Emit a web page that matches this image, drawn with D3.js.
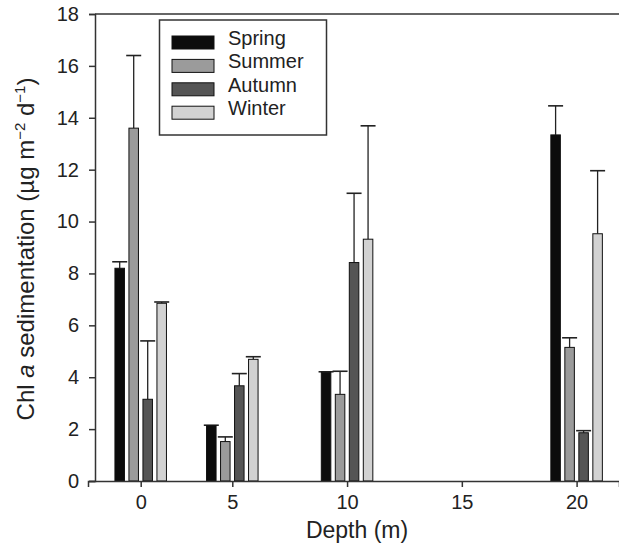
<!DOCTYPE html>
<html>
<head>
<meta charset="utf-8">
<script src="https://cdn.jsdelivr.net/npm/d3@7"></script>
<style>
    body { margin: 0; background: #fff; }
    svg { font-family: "Liberation Sans", Arial, sans-serif; }
</style>
</head>
<body>
<svg></svg>
<script>
let depths = [0, 5, 10, 20];
let depthTicks = [0, 5, 10, 15, 20];
let yTicks = [0, 2, 4, 6, 8, 10, 12, 14, 16, 18];
let seasons = ["Spring", "Summer", "Autumn", "Winter"];

// means and upper error (SE) per depth
let spring = [8.2, 2.13, 4.19, 13.34];
let springErr = [0.25, 0.02, 0.02, 1.12];
let summer = [13.6, 1.52, 3.34, 5.15];
let summerErr = [2.8, 0.18, 0.89, 0.37];
let autumn = [3.15, 3.67, 8.42, 1.86];
let autumnErr = [2.25, 0.47, 2.67, 0.08];
let winter = [6.85, 4.69, 9.32, 9.53];
let winterErr = [0.05, 0.1, 4.37, 2.43];

let colors = ["#0c0c0c", "#9b9b9b", "#555555", "#d2d2d2"];

let width = 619;
let height = 543;

let plotLeft = 95;
let plotTop = 14;
let plotBottom = 481;

let svg = d3.select("svg");

let xScale;
let yScale;
let seasonScale;

let values = [];

function buildValues() {
    let means = [spring, summer, autumn, winter];
    let errs = [springErr, summerErr, autumnErr, winterErr];
    seasons.forEach((s, i) => {
        depths.forEach((d, j) => {
            values.push({ season: s, depth: d, mean: means[i][j], err: errs[i][j], color: colors[i] });
        });
    });
}

function drawCanvas() {
    svg.attr("width", width)
       .attr("height", height);
}

function generateScales() {
    // the depth axis of the original is not evenly spaced between 0 and 5
    xScale = d3.scaleLinear()
               .domain([-2.4, 0, 5, 20, 22.8])
               .range([88, 140.7, 232.3, 576.6, 619]);

    yScale = d3.scaleLinear()
               .domain([0, 18])
               .range([plotBottom, plotTop]);

    seasonScale = d3.scaleBand()
                    .domain(seasons)
                    .range([-28, 28])
                    .paddingInner(0.32)
                    .paddingOuter(0.16);
}

function drawBars() {
    let bw = seasonScale.bandwidth();

    svg.selectAll("line.err")
       .data(values)
       .enter()
       .append("line")
       .attr("class", "err")
       .attr("x1", d => xScale(d.depth) + seasonScale(d.season) + bw / 2)
       .attr("x2", d => xScale(d.depth) + seasonScale(d.season) + bw / 2)
       .attr("y1", d => yScale(d.mean))
       .attr("y2", d => yScale(d.mean + d.err))
       .attr("stroke", "#222")
       .attr("stroke-width", 1.3);

    svg.selectAll("line.cap")
       .data(values)
       .enter()
       .append("line")
       .attr("class", "cap")
       .attr("x1", d => xScale(d.depth) + seasonScale(d.season) + bw / 2 - 7.5)
       .attr("x2", d => xScale(d.depth) + seasonScale(d.season) + bw / 2 + 7.5)
       .attr("y1", d => yScale(d.mean + d.err))
       .attr("y2", d => yScale(d.mean + d.err))
       .attr("stroke", "#222")
       .attr("stroke-width", 1.6);

    svg.selectAll("rect.bar")
       .data(values)
       .enter()
       .append("rect")
       .attr("class", "bar")
       .attr("x", d => xScale(d.depth) + seasonScale(d.season))
       .attr("y", d => yScale(d.mean))
       .attr("width", bw)
       .attr("height", d => yScale(0) - yScale(d.mean))
       .attr("fill", d => d.color)
       .attr("stroke", "#111")
       .attr("stroke-width", 1);
}

function generateAxes() {
    let xAxis = d3.axisBottom(xScale)
                  .tickValues(depthTicks)
                  .tickSizeOuter(0)
                  .tickSize(6)
                  .tickPadding(8);

    let gx = svg.append("g")
                .attr("id", "x-axis")
                .attr("transform", `translate(0, ${plotBottom})`)
                .call(xAxis);

    let yAxis = d3.axisLeft(yScale)
                  .tickValues(yTicks)
                  .tickSizeOuter(0)
                  .tickSize(6)
                  .tickPadding(10);

    let gy = svg.append("g")
                .attr("id", "y-axis")
                .attr("transform", `translate(${plotLeft}, 0)`)
                .call(yAxis);

    [gx, gy].forEach(g => {
        g.selectAll("path, line").attr("stroke", "#333").attr("stroke-width", 1.5);
        g.selectAll("text").attr("fill", "#222").style("font-size", "20px");
    });

    // top frame line
    svg.append("line")
       .attr("x1", plotLeft)
       .attr("x2", width)
       .attr("y1", plotTop)
       .attr("y2", plotTop)
       .attr("stroke", "#333")
       .attr("stroke-width", 1.5);

    svg.append("text")
       .attr("x", 357)
       .attr("y", 538)
       .attr("text-anchor", "middle")
       .attr("fill", "#222")
       .style("font-size", "23px")
       .text("Depth (m)");

    let yt = svg.append("text")
                .attr("transform", "translate(34, 249) rotate(-90)")
                .attr("text-anchor", "middle")
                .attr("fill", "#222")
                .style("font-size", "24px");
    yt.append("tspan").text("Chl ");
    yt.append("tspan").style("font-style", "italic").text("a");
    yt.append("tspan").text(" sedimentation (µg m");
    yt.append("tspan").attr("dy", -9).style("font-size", "15px").text("−2");
    yt.append("tspan").attr("dy", 9).text(" d");
    yt.append("tspan").attr("dy", -9).style("font-size", "15px").text("−1");
    yt.append("tspan").attr("dy", 9).text(")");
}

function drawLegend() {
    let lg = svg.append("g").attr("id", "legend");

    lg.append("rect")
      .attr("x", 159.5)
      .attr("y", 20)
      .attr("width", 167)
      .attr("height", 115)
      .attr("fill", "#fff")
      .attr("stroke", "#333")
      .attr("stroke-width", 1.5);

    let rows = lg.selectAll("g.row")
                 .data(seasons)
                 .enter()
                 .append("g")
                 .attr("class", "row")
                 .attr("transform", (d, i) => `translate(0, ${36 + i * 23.4})`);

    rows.append("rect")
        .attr("x", 172)
        .attr("y", 0)
        .attr("width", 42)
        .attr("height", 13)
        .attr("fill", (d, i) => colors[i])
        .attr("stroke", "#111")
        .attr("stroke-width", 1);

    rows.append("text")
        .attr("x", 228)
        .attr("y", 9)
        .attr("fill", "#222")
        .style("font-size", "20px")
        .text(d => d);
}

buildValues();
drawCanvas();
generateScales();
drawBars();
generateAxes();
drawLegend();
</script>
</body>
</html>
